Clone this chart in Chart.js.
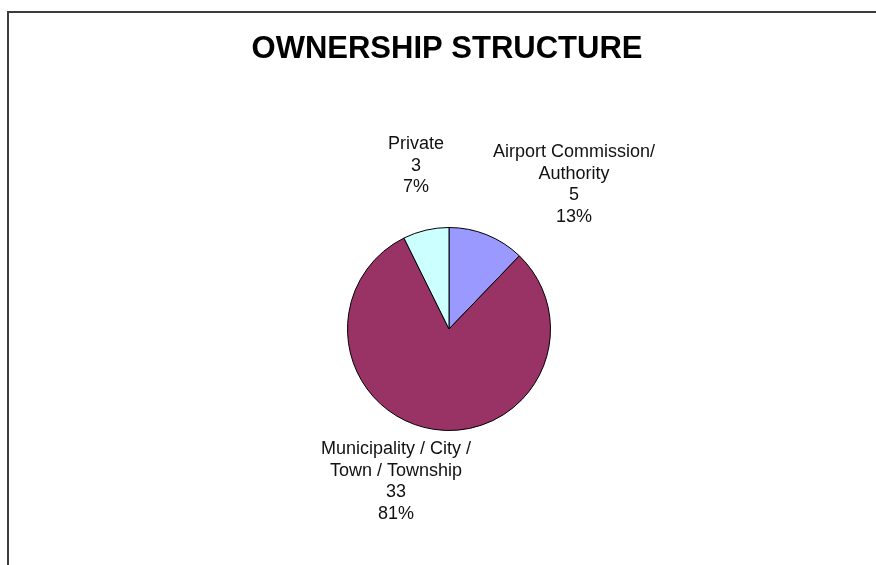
<!DOCTYPE html>
<html>
<head>
<meta charset="utf-8">
<title>Ownership Structure</title>
<script src="https://cdn.jsdelivr.net/npm/chart.js@4.4.1/dist/chart.umd.min.js"></script>
<style>
    html, body { margin: 0; padding: 0; background: #fff; overflow: hidden; }
    #wrap { position: relative; width: 876px; height: 565px; }
    #frame {
        position: absolute; left: 7px; top: 11px; right: -10px; bottom: -10px;
        border-top: 2px solid #3c3c3c; border-left: 2px solid #3c3c3c;
    }
    canvas { position: absolute; left: 0; top: 0; }
</style>
</head>
<body>
<div id="wrap">
    <div id="frame"></div>
    <canvas id="chart" width="876" height="565"></canvas>
</div>
<script>
const chartTitle = 'OWNERSHIP STRUCTURE'
const owners = ['Airport Commission/ Authority', 'Municipality / City / Town / Township', 'Private']
const labelLines = [['Airport Commission/', 'Authority'], ['Municipality / City /', 'Town / Township'], ['Private']]
const counts = [5, 33, 3]
const shares = ['13%', '81%', '7%']
const colors = ['#9999ff', '#993366', '#ccffff']

// where each label block sits, relative to the pie centre (x, middle of first line)
const labelSpots = [
    {dx: 125, dy: -177},
    {dx: -53, dy: 120},
    {dx: -33, dy: -185}
]

const labelPlugin = {
    id: 'pieLabels',
    afterDatasetsDraw(chart){
        const ctx = chart.ctx
        const arcs = chart.getDatasetMeta(0).data
        ctx.save()
        ctx.textAlign = 'center'
        ctx.textBaseline = 'middle'
        ctx.fillStyle = '#000'
        ctx.font = 'bold 31px "Liberation Sans", Arial, sans-serif'
        ctx.fillText(chartTitle, 447, 49)
        ctx.font = '18px "Liberation Sans", Arial, sans-serif'
        ctx.fillStyle = '#111'
        arcs.forEach((arc, i) => {
            const spot = labelSpots[i]
            const lines = labelLines[i].concat([String(counts[i]), shares[i]])
            lines.forEach((line, n) => {
                ctx.fillText(line, arc.x + spot.dx, arc.y + spot.dy + n * 21.7)
            })
        })
        ctx.restore()
    }
}

new Chart(document.querySelector('#chart'), {
    type: 'pie',
    data: {
        labels: owners,
        datasets: [{
            data: counts,
            backgroundColor: colors,
            borderColor: '#000',
            borderWidth: 1
        }]
    },
    options: {
        responsive: false,
        animation: false,
        layout: {padding: {top: 227, bottom: 134, left: 299, right: 277}},
        plugins: {
            legend: {display: false},
            tooltip: {enabled: false},
            title: {display: false}
        }
    },
    plugins: [labelPlugin]
})
</script>
</body>
</html>
